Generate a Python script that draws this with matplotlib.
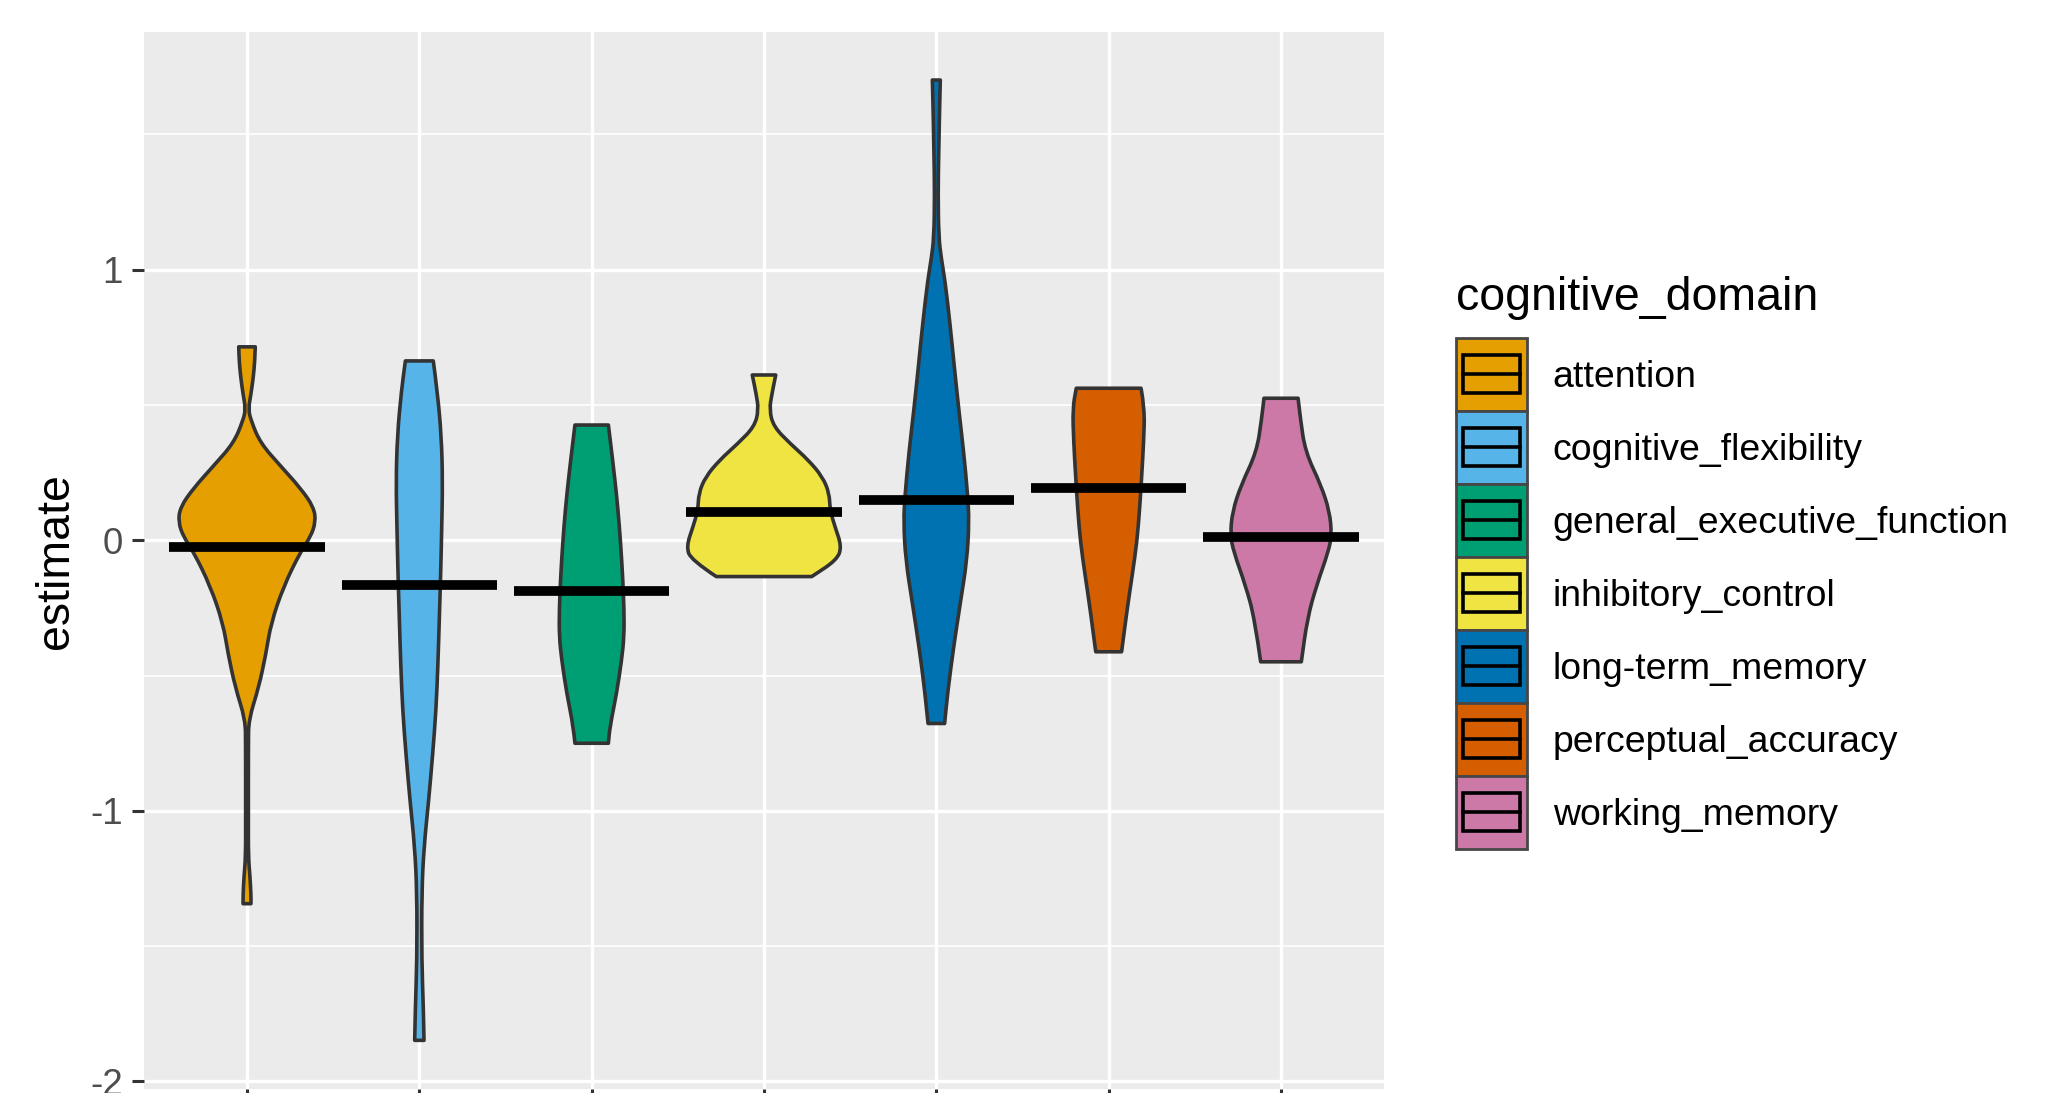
import matplotlib
matplotlib.use("Agg")
import matplotlib.pyplot as plt
from matplotlib.patches import Rectangle, PathPatch
from matplotlib.path import Path

# ─── Data ───────────────────────────────────────────────────────────────────
domains = ["attention", "cognitive_flexibility", "general_executive_function",
           "inhibitory_control", "long-term_memory", "perceptual_accuracy",
           "working_memory"]
colors = ["#E69F00", "#56B4E9", "#009E73", "#F0E442", "#0072B2", "#D55E00", "#CC79A7"]
means = [-0.025, -0.166, -0.187, 0.103, 0.150, 0.192, 0.011]

# violin outlines: y levels and half widths (x units)
attention_y = [0.715, 0.660, 0.600, 0.541, 0.485, 0.443, 0.360, 0.276, 0.193, 0.123,
               0.068, 0.012, -0.043, -0.169, -0.307, -0.419, -0.544, -0.662, -0.752,
               -1.031, -1.170, -1.239, -1.309, -1.343]
attention_w = [0.048, 0.045, 0.036, 0.023, 0.008, 0.023, 0.077, 0.193, 0.310, 0.387,
               0.399, 0.368, 0.310, 0.213, 0.139, 0.110, 0.068, 0.010, 0.008,
               0.008, 0.008, 0.017, 0.023, 0.023]

flexibility_y = [0.663, 0.553, 0.385, 0.216, 0.048, -0.121, -0.289, -0.458, -0.626,
                 -0.795, -0.963, -1.132, -1.300, -1.553, -1.722, -1.848]
flexibility_w = [0.081, 0.104, 0.128, 0.135, 0.130, 0.124, 0.116, 0.108, 0.097,
                 0.077, 0.054, 0.027, 0.014, 0.014, 0.023, 0.027]

executive_y = [0.426, 0.358, 0.235, 0.112, -0.011, -0.135, -0.258, -0.356, -0.442,
               -0.565, -0.689, -0.750]
executive_w = [0.097, 0.110, 0.133, 0.153, 0.168, 0.180, 0.188, 0.188, 0.174,
               0.145, 0.106, 0.097]

inhibitory_y = [0.611, 0.543, 0.482, 0.420, 0.358, 0.297, 0.235, 0.174, 0.112, 0.050,
                -0.024, -0.073, -0.134]
inhibitory_w = [0.068, 0.046, 0.031, 0.056, 0.151, 0.257, 0.339, 0.379, 0.383, 0.412,
                0.451, 0.422, 0.277]

longterm_y = [1.701, 1.597, 1.438, 1.279, 1.120, 1.041, 0.961, 0.802, 0.643, 0.484,
              0.325, 0.166, 0.070, -0.073, -0.232, -0.391, -0.550, -0.677]
longterm_w = [0.023, 0.019, 0.014, 0.010, 0.014, 0.029, 0.050, 0.079, 0.104, 0.130,
              0.159, 0.182, 0.190, 0.178, 0.139, 0.101, 0.068, 0.048]

perceptual_y = [0.562, 0.488, 0.364, 0.241, 0.118, -0.005, -0.128, -0.251, -0.412]
perceptual_w = [0.188, 0.209, 0.203, 0.192, 0.180, 0.164, 0.137, 0.108, 0.075]

working_y = [0.525, 0.451, 0.327, 0.204, 0.106, 0.020, -0.042, -0.165, -0.288, -0.449]
working_w = [0.099, 0.112, 0.141, 0.232, 0.282, 0.294, 0.275, 0.207, 0.153, 0.118]

profiles = [(attention_y, attention_w), (flexibility_y, flexibility_w),
            (executive_y, executive_w), (inhibitory_y, inhibitory_w),
            (longterm_y, longterm_w), (perceptual_y, perceptual_w),
            (working_y, working_w)]

y_major = [-2, -1, 0, 1]
y_minor = [-1.5, -0.5, 0.5, 1.5]


def violin_path(x, yy, ww):
    # rounded outline: sides drawn as quadratic curves through the read points,
    # flat top and bottom like ggplot's violins
    right = [(x + w, y) for y, w in zip(yy, ww)]
    left = [(x - w, y) for y, w in zip(yy, ww)][::-1]
    verts, codes = [right[0]], [Path.MOVETO]

    def side(pts):
        for k in range(1, len(pts) - 1):
            nxt = ((pts[k][0] + pts[k + 1][0]) / 2, (pts[k][1] + pts[k + 1][1]) / 2)
            verts.extend([pts[k], nxt])
            codes.extend([Path.CURVE3, Path.CURVE3])
        verts.append(pts[-1])
        codes.append(Path.LINETO)

    side(right)
    verts.append(left[0])
    codes.append(Path.LINETO)
    side(left)
    verts.append(right[0])
    codes.append(Path.CLOSEPOLY)
    return Path(verts, codes)


# ─── Figure ─────────────────────────────────────────────────────────────────
plt.rcParams["font.family"] = ["Liberation Sans", "DejaVu Sans"]

W, H = 2050, 1093
fig = plt.figure(figsize=(W / 100, H / 100), dpi=100, facecolor="white")
ax = fig.add_axes([143.6 / W, 4.1 / H, 1240.8 / W, 1056.6 / H])
ax.set_facecolor("#EBEBEB")
for s in ax.spines.values():
    s.set_visible(False)

ax.set_xlim(0.4, 7.6)
ax.set_ylim(-2.0275, 1.8775)
ax.set_xticks(range(1, len(domains) + 1))
ax.set_xticklabels([])
ax.set_yticks(y_major)
ax.set_yticklabels([str(v) for v in y_major])
ax.set_yticks(y_minor, minor=True)
ax.grid(which="major", color="white", lw=2.4)
ax.grid(which="minor", axis="y", color="white", lw=1.2)
ax.set_axisbelow(True)
ax.tick_params(which="major", length=8.6, width=2.2, color="#333333",
               labelsize=26.5, labelcolor="#4D4D4D", pad=6.5)
ax.tick_params(which="minor", length=0)

ax.set_ylabel("estimate", fontsize=33.5, color="black")
ax.yaxis.set_label_coords(-0.053, 0.5)

# violins
for i, (yy, ww) in enumerate(profiles):
    ax.add_patch(PathPatch(violin_path(i + 1, yy, ww), facecolor=colors[i],
                           edgecolor="#333333", lw=2.6, joinstyle="round", zorder=2))

# mean crossbars
xs = range(1, len(domains) + 1)
ax.hlines(means, [x - 0.45 for x in xs], [x + 0.45 for x in xs],
          colors="black", lw=7, capstyle="butt", zorder=3)

# ─── Legend (drawn in figure pixels) ────────────────────────────────────────
lax = fig.add_axes([0, 0, 1, 1])
lax.set_xlim(0, W)
lax.set_ylim(H, 0)
lax.axis("off")

lax.text(1456, 310, "cognitive_domain", fontsize=33.5, color="black",
         ha="left", va="baseline")
key_x, key_top, key_w, key_h = 1456, 337.7, 70.6, 73.0
for i, (name, c) in enumerate(zip(domains, colors)):
    top = key_top + i * key_h
    cy = top + key_h / 2
    lax.add_patch(Rectangle((key_x, top), key_w, key_h, facecolor=c,
                            edgecolor="#474747", lw=2.0))
    lax.add_patch(Rectangle((key_x + 6.5, cy - 19), key_w - 13, 38, facecolor=c,
                            edgecolor="black", lw=2.6))
    lax.plot([key_x + 6.5, key_x + key_w - 6.5], [cy, cy], color="black", lw=2.6)
    lax.text(1552.7, cy + 12.5, name, fontsize=26.9, color="black",
             ha="left", va="baseline")

fig.savefig("out.png", dpi=100, facecolor="white")
